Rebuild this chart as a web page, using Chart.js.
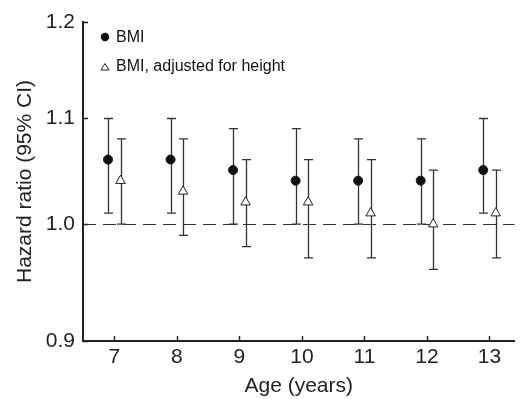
<!DOCTYPE html>
<html><head><meta charset="utf-8">
<script src="https://cdn.jsdelivr.net/npm/chart.js@4.4.1/dist/chart.umd.min.js"></script>
<style>html,body{margin:0;padding:0;background:#fff;}#wrap{width:521px;height:399px;}</style>
</head><body><div id="wrap"><canvas id="c" width="521" height="399"></canvas></div>
<script>
const ages = [7, 8, 9, 10, 11, 12, 13];
const bmiHR = [1.06, 1.06, 1.05, 1.04, 1.04, 1.04, 1.05];
const bmiLo = [1.01, 1.01, 1.00, 1.00, 1.00, 1.00, 1.01];
const bmiHi = [1.10, 1.10, 1.09, 1.09, 1.08, 1.08, 1.10];
const adjHR = [1.04, 1.03, 1.02, 1.02, 1.01, 1.00, 1.01];
const adjLo = [1.00, 0.99, 0.98, 0.97, 0.97, 0.96, 0.97];
const adjHi = [1.08, 1.08, 1.06, 1.06, 1.06, 1.05, 1.05];
const yTicks = [0.9, 1.0, 1.1, 1.2];
const seriesNames = ['BMI', 'BMI, adjusted for height'];

const SHIFT = 0.1;
const FONT = '"Liberation Sans", Arial, Helvetica, sans-serif';
const INK = '#222';

const series = [
  {name: seriesNames[0], hr: bmiHR, lo: bmiLo, hi: bmiHi, dx: -SHIFT},
  {name: seriesNames[1], hr: adjHR, lo: adjLo, hi: adjHi, dx: SHIFT}
];

const overlay = {
  id: 'overlay',
  beforeDatasetsDraw(chart) {
    const ctx = chart.ctx, xs = chart.scales.x, ys = chart.scales.y, a = chart.chartArea;
    ctx.save();
    ctx.strokeStyle = '#333'; ctx.lineWidth = 1.2; ctx.setLineDash([13, 7]);
    const y1 = Math.round(ys.getPixelForValue(1.0)) + 0.5;
    ctx.beginPath(); ctx.moveTo(a.left, y1); ctx.lineTo(a.right, y1); ctx.stroke();
    ctx.setLineDash([]);
    ctx.strokeStyle = '#333'; ctx.lineWidth = 1.3;
    series.forEach(s => {
      ages.forEach((age, i) => {
        const px = Math.round(xs.getPixelForValue(age + s.dx)) + 0.5;
        const pl = ys.getPixelForValue(s.lo[i]);
        const ph = ys.getPixelForValue(s.hi[i]);
        ctx.beginPath();
        ctx.moveTo(px, pl); ctx.lineTo(px, ph);
        ctx.moveTo(px - 4.5, ph); ctx.lineTo(px + 4.5, ph);
        ctx.moveTo(px - 4.5, pl); ctx.lineTo(px + 4.5, pl);
        ctx.stroke();
      });
    });
    ctx.restore();
  },
  afterDraw(chart) {
    const ctx = chart.ctx, xs = chart.scales.x, ys = chart.scales.y, a = chart.chartArea;
    ctx.save();
    ctx.strokeStyle = INK; ctx.lineWidth = 1.5;
    ctx.beginPath();
    ys.ticks.forEach(t => {
      const p = Math.round(ys.getPixelForValue(t.value)) + 0.5;
      ctx.moveTo(a.left, p); ctx.lineTo(a.left + 5, p);
    });
    xs.ticks.forEach(t => {
      const p = Math.round(xs.getPixelForValue(t.value)) + 0.5;
      ctx.moveTo(p, a.bottom); ctx.lineTo(p, a.bottom - 5);
    });
    ctx.stroke();
    // legend
    ctx.fillStyle = '#111';
    ctx.beginPath(); ctx.arc(105, 37, 4.2, 0, Math.PI * 2); ctx.fill();
    ctx.strokeStyle = '#222'; ctx.lineWidth = 1; ctx.fillStyle = '#fff';
    ctx.beginPath(); ctx.moveTo(105, 63.5); ctx.lineTo(109, 70); ctx.lineTo(101, 70); ctx.closePath();
    ctx.fill(); ctx.stroke();
    ctx.fillStyle = '#111'; ctx.font = '16px ' + FONT; ctx.textBaseline = 'middle';
    ctx.fillText(seriesNames[0], 116, 38);
    ctx.fillText(seriesNames[1], 116, 67);
    ctx.restore();
  }
};

new Chart(document.getElementById('c'), {
  type: 'scatter',
  data: {
    datasets: [
      {label: seriesNames[0], data: ages.map((a, i) => ({x: a - SHIFT, y: bmiHR[i]})),
       pointStyle: 'circle', pointRadius: 4.5, backgroundColor: '#111', borderColor: '#111', borderWidth: 1},
      {label: seriesNames[1], data: ages.map((a, i) => ({x: a + SHIFT, y: adjHR[i]})),
       pointStyle: 'triangle', pointRadius: 5.5, backgroundColor: '#fff', borderColor: '#222', borderWidth: 1}
    ]
  },
  options: {
    responsive: false, animation: false, devicePixelRatio: 1,
    layout: {padding: {top: 22, right: 0, left: 0, bottom: 0}},
    plugins: {legend: {display: false}, tooltip: {enabled: false}},
    scales: {
      x: {
        type: 'linear', min: 6.5, max: 13.4,
        afterBuildTicks: s => { s.ticks = ages.map(v => ({value: v})); },
        afterFit: s => { s.height = 58; },
        grid: {drawOnChartArea: false, drawTicks: false},
        border: {display: true, color: INK, width: 2},
        ticks: {color: '#222', font: {family: FONT, size: 21}, padding: 4, callback: v => String(v)},
        title: {display: true, text: 'Age (years)', color: '#222', font: {family: FONT, size: 21}, padding: {top: 0, bottom: 0}}
      },
      y: {
        type: 'logarithmic', min: 0.9, max: 1.2,
        afterBuildTicks: s => { s.ticks = yTicks.map(v => ({value: v})); },
        afterFit: s => { s.width = 83; },
        grid: {drawOnChartArea: false, drawTicks: false},
        border: {display: true, color: INK, width: 2},
        ticks: {color: '#222', font: {family: FONT, size: 21}, padding: 8, callback: v => Number(v).toFixed(1)},
        title: {display: true, text: 'Hazard ratio (95% CI)', color: '#222', font: {family: FONT, size: 21}, padding: {top: 13, bottom: 0}}
      }
    }
  },
  plugins: [overlay]
});
</script></body></html>
